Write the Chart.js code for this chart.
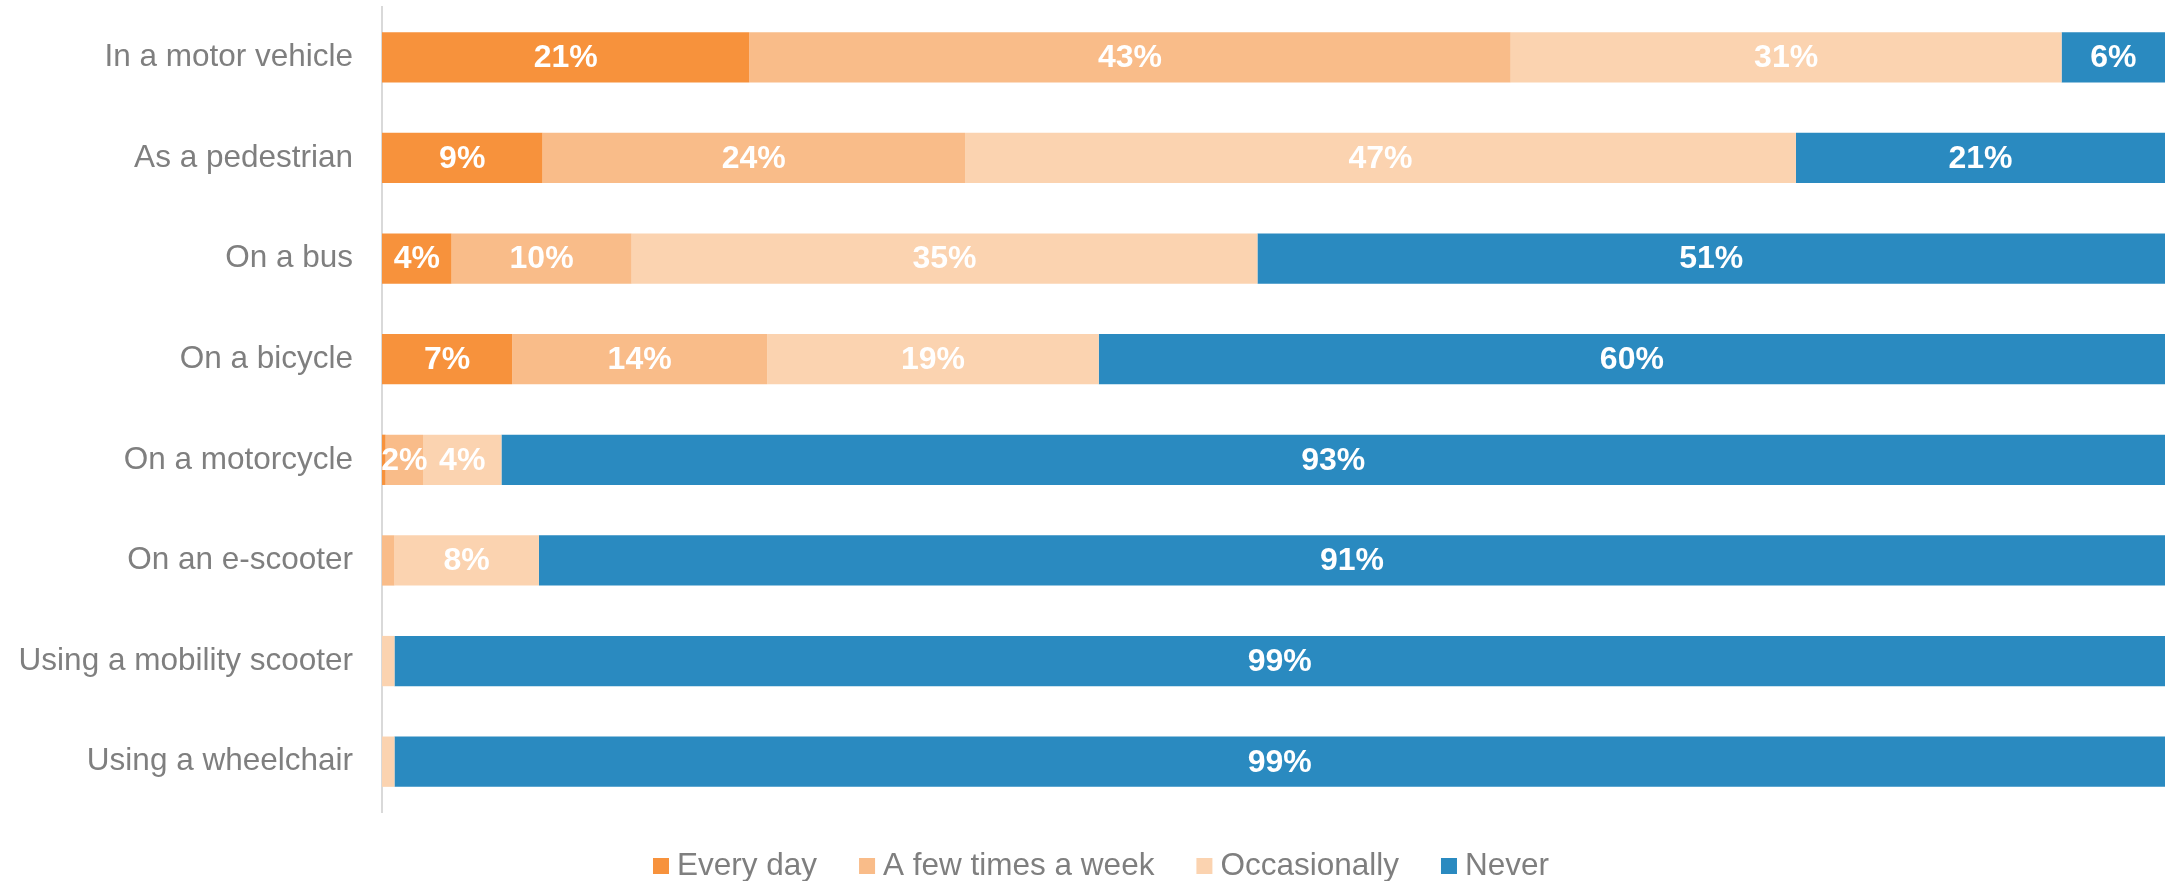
<!DOCTYPE html>
<html>
<head>
<meta charset="utf-8">
<script src="https://cdn.jsdelivr.net/npm/chart.js@4/dist/chart.umd.min.js"></script>
<style>
html,body{margin:0;padding:0;background:#fff;}
#wrap{width:2173px;height:881px;position:relative;}
</style>
</head>
<body>
<div id="wrap"><canvas id="c"></canvas></div>
<script>
const categories = ['In a motor vehicle', 'As a pedestrian', 'On a bus', 'On a bicycle', 'On a motorcycle', 'On an e-scooter', 'Using a mobility scooter', 'Using a wheelchair'];
const seriesNames = ['Every day', 'A few times a week', 'Occasionally', 'Never'];
const everyDay     = [20.6, 9.0, 3.9, 7.3, 0.2, 0, 0, 0];
const fewTimesWeek = [42.7, 23.7, 10.1, 14.3, 2.1, 0.7, 0, 0];
const occasionally = [30.9, 46.6, 35.1, 18.6, 4.4, 8.1, 0.7, 0.7];
const never        = [5.8, 20.7, 50.9, 59.8, 93.3, 91.2, 99.3, 99.3];
const colors = ['#F7923C', '#F9BC89', '#FBD3B0', '#2A8AC0'];
const seriesData = [everyDay, fewTimesWeek, occasionally, never];

const FONT = "'Liberation Sans', Arial, Helvetica, sans-serif";
const GRAY = '#7f7f7f';

const dataLabels = {
  id: 'dataLabels',
  afterDatasetsDraw(chart) {
    const ctx = chart.ctx;
    ctx.save();
    ctx.font = 'bold 32px ' + FONT;
    ctx.fillStyle = '#ffffff';
    ctx.textAlign = 'center';
    ctx.textBaseline = 'middle';
    chart.data.datasets.forEach((ds, i) => {
      const meta = chart.getDatasetMeta(i);
      meta.data.forEach((bar, j) => {
        const v = ds.data[j];
        if (v < 1.5) return;
        const p = bar.getProps(['x', 'base', 'y'], true);
        ctx.fillText(Math.round(v) + '%', (p.x + p.base) / 2, p.y + 1);
      });
    });
    ctx.restore();
  }
};

const bottomLegend = {
  id: 'bottomLegend',
  afterDraw(chart) {
    const ctx = chart.ctx;
    ctx.save();
    ctx.font = '31.5px ' + FONT;
    ctx.textBaseline = 'middle';
    ctx.textAlign = 'left';
    let x = 653;
    const y = 866;
    chart.data.datasets.forEach((ds) => {
      ctx.fillStyle = ds.backgroundColor;
      ctx.fillRect(x, y - 8, 16, 16);
      x += 16 + 8;
      ctx.fillStyle = GRAY;
      ctx.fillText(ds.label, x, y);
      x += ctx.measureText(ds.label).width + 42;
    });
    ctx.restore();
  }
};

new Chart(document.getElementById('c'), {
  type: 'bar',
  data: {
    labels: categories,
    datasets: seriesNames.map((name, i) => ({
      label: name,
      data: seriesData[i],
      backgroundColor: colors[i],
      borderWidth: 0,
      barPercentage: 0.5,
      categoryPercentage: 1.0
    }))
  },
  options: {
    indexAxis: 'y',
    responsive: true,
    maintainAspectRatio: false,
    animation: false,
    layout: { padding: { left: 0, right: 8, top: 7, bottom: 69 } },
    plugins: {
      legend: { display: false },
      tooltip: { enabled: false }
    },
    scales: {
      x: {
        stacked: true,
        min: 0,
        max: 100,
        display: false
      },
      y: {
        stacked: true,
        grid: { display: false, drawTicks: false },
        border: { display: true, color: '#d9d9d9', width: 2 },
        ticks: {
          color: GRAY,
          padding: 29,
          font: { family: FONT, size: 31.5 }
        },
        afterFit(scale) {
          scale.width = 382;
          scale.paddingTop = 0;
          scale.paddingBottom = 0;
        }
      }
    }
  },
  plugins: [dataLabels, bottomLegend]
});
</script>
</body>
</html>
